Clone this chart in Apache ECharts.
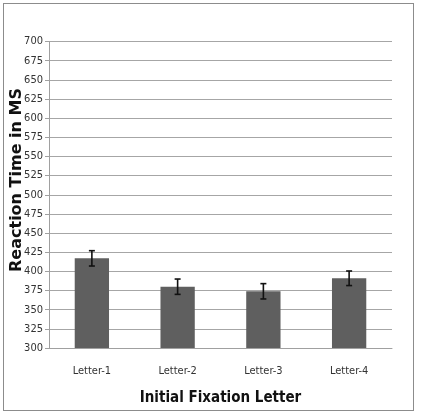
<!DOCTYPE html>
<html><head><meta charset="utf-8">
<script src="https://cdn.jsdelivr.net/npm/echarts@6/dist/echarts.min.js"></script>
<style>html,body{margin:0;padding:0;background:#fff}#c{width:421px;height:416px}
#frame{position:absolute;left:3px;top:3px;width:411px;height:408px;border:1.5px solid #8c8c8c;box-sizing:border-box;pointer-events:none}</style>
</head><body><div id="c"></div><div id="frame"></div>
<script>
const categories = ['Letter-1', 'Letter-2', 'Letter-3', 'Letter-4'];
const meanRT = [417, 380, 374, 391];
const errorRT = [10, 10, 10, 9.5];
const yTicks = { min: 300, max: 700, interval: 25 };
const xTitle = 'Initial Fixation Letter';
const yTitle = 'Reaction Time in MS';

const chart = echarts.init(document.getElementById('c'), null, { renderer: 'canvas' });
const narrow = '"DejaVu Sans Condensed", "Liberation Sans Narrow", "Liberation Sans", sans-serif';
chart.setOption({
  animation: false,
  grid: { left: 49, right: 29, top: 41.5, bottom: 68, outerBoundsMode: 'none', containLabel: false },
  graphic: [{
    type: 'text', x: 17, y: 180, rotation: Math.PI / 2,
    style: { text: yTitle, fill: '#111', font: 'bold 16px "DejaVu Sans", sans-serif', align: 'center', verticalAlign: 'middle' }
  }],
  xAxis: {
    type: 'category', data: categories,
    axisLine: { lineStyle: { color: '#a0a0a0', width: 1 } },
    axisTick: { show: false },
    axisLabel: { color: '#333', fontFamily: narrow, fontSize: 11, margin: 18 },
    name: xTitle, nameLocation: 'middle', nameGap: 43,
    nameTextStyle: { color: '#111', fontFamily: narrow, fontWeight: 'bold', fontSize: 15 }
  },
  yAxis: {
    type: 'value', min: yTicks.min, max: yTicks.max, interval: yTicks.interval,
    axisLine: { show: true, lineStyle: { color: '#a0a0a0', width: 1 } },
    axisTick: { show: true, length: 4, lineStyle: { color: '#a0a0a0' } },
    splitLine: { lineStyle: { color: '#a6a6a6', width: 1 } },
    axisLabel: { color: '#333', fontFamily: narrow, fontSize: 11, margin: 6 }
  },
  series: [
    { type: 'bar', data: meanRT, barWidth: '40%', itemStyle: { color: '#5f5f5f' } },
    {
      type: 'custom',
      data: meanRT.map((v, i) => [i, v - errorRT[i], v + errorRT[i]]),
      renderItem: function (params, api) {
        const lo = api.coord([api.value(0), api.value(1)]);
        const hi = api.coord([api.value(0), api.value(2)]);
        const w = 3;
        const st = { stroke: '#111', lineWidth: 1.6 };
        return { type: 'group', children: [
          { type: 'line', shape: { x1: hi[0], y1: hi[1], x2: lo[0], y2: lo[1] }, style: st },
          { type: 'line', shape: { x1: hi[0] - w, y1: hi[1], x2: hi[0] + w, y2: hi[1] }, style: st },
          { type: 'line', shape: { x1: lo[0] - w, y1: lo[1], x2: lo[0] + w, y2: lo[1] }, style: st }
        ]};
      },
      z: 5
    }
  ]
});
</script></body></html>
